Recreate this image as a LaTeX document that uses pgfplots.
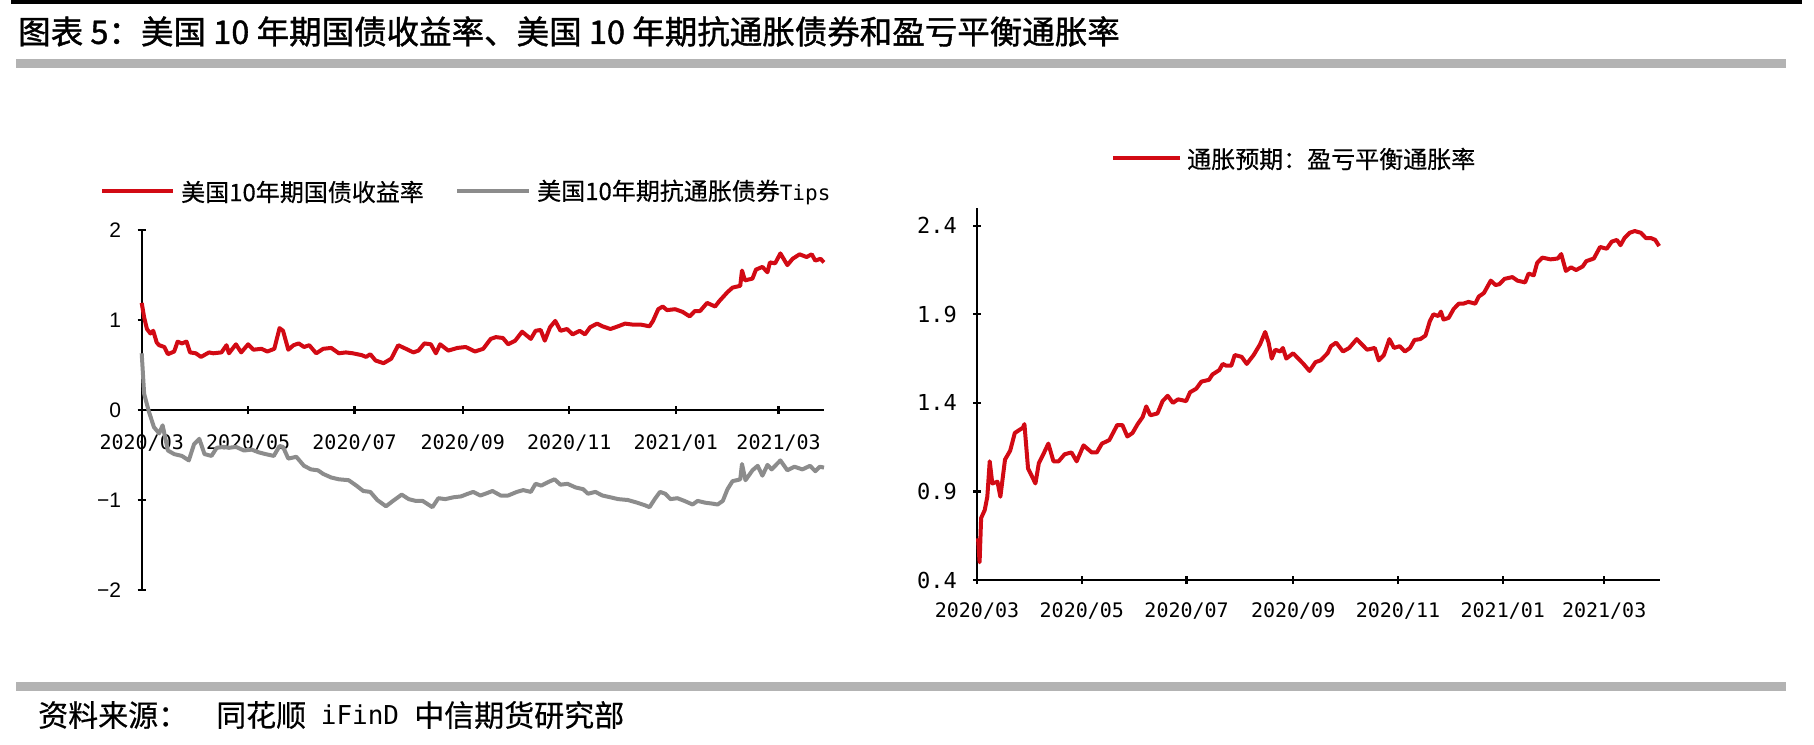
\documentclass[border=0pt]{standalone}
\usepackage{pgfplots}
\pgfplotsset{compat=1.18}
\usepackage{pgfplotstable}
\usepackage{fontspec}
\setmainfont{Noto Sans CJK SC}
\newfontfamily\hei[FakeBold=0.5]{Noto Sans CJK SC}
\newfontfamily\heib[FakeBold=1.2]{Noto Sans CJK SC}
\newfontfamily\arial{Liberation Sans}
\newfontfamily\mono{DejaVu Sans Mono}
\newcommand{\fs}[1]{\fontsize{#1}{#1}\selectfont}
\definecolor{cred}{RGB}{210,10,20}
\definecolor{cgrey}{RGB}{140,140,140}
\definecolor{cbar}{RGB}{179,179,179}

% day = days since 2020-03-01
\pgfplotstableread{
day val
0 1.19
1.4 1.03
3 0.90
5 0.85
6.6 0.88
8.6 0.75
10 0.72
13 0.70
15 0.62
18.6 0.65
20.6 0.76
23 0.74
25.7 0.76
27.7 0.64
31 0.63
34 0.59
38.6 0.64
41 0.63
45.7 0.64
48.6 0.72
50 0.63
54 0.73
57 0.64
61 0.73
64 0.67
68.6 0.68
72 0.65
76 0.68
79 0.91
81 0.88
84 0.67
87 0.72
90 0.74
93 0.70
96 0.72
100 0.63
104 0.68
108.6 0.69
113 0.63
117 0.64
121 0.63
126 0.61
128.6 0.59
131 0.62
134 0.55
138.6 0.52
143 0.57
147 0.72
151.4 0.68
155.7 0.64
158.6 0.66
162 0.74
165.7 0.73
168.6 0.63
171 0.73
175.7 0.66
181 0.69
185.7 0.70
191 0.65
195.7 0.68
200 0.79
203 0.81
207 0.80
210 0.73
214 0.77
218 0.87
223 0.79
225.7 0.88
228.6 0.89
231 0.77
234 0.92
237 0.99
240 0.88
243.7 0.90
247 0.84
251 0.88
254 0.84
257 0.92
261 0.96
264 0.93
268.6 0.90
273 0.93
277 0.96
281 0.95
285.7 0.95
291 0.93
293 0.99
296 1.12
298.6 1.15
301 1.11
305.7 1.12
310 1.09
314 1.04
317 1.10
320 1.10
324 1.19
328.6 1.15
331 1.21
335.7 1.31
338.6 1.36
343 1.38
344 1.55
345.7 1.44
350 1.46
352 1.56
355.7 1.59
358.6 1.53
360 1.64
363 1.63
366 1.74
370 1.61
373 1.68
377 1.73
381 1.70
384 1.73
386 1.66
389 1.68
391 1.64
}\nominal

\pgfplotstableread{
day val
0 0.63
1.4 0.18
4 -0.01
7 -0.19
10 -0.26
12 -0.17
15 -0.45
18.6 -0.49
23 -0.51
27 -0.56
30 -0.38
33 -0.32
36 -0.49
40 -0.51
43 -0.42
47 -0.41
50 -0.42
54 -0.41
58.6 -0.45
63 -0.44
67 -0.47
71 -0.49
75.7 -0.51
79 -0.40
81 -0.41
84 -0.54
88.6 -0.52
93 -0.62
97 -0.66
101 -0.67
104 -0.71
108.6 -0.75
113 -0.77
118.6 -0.78
123 -0.84
127 -0.90
131 -0.91
135 -1.00
140 -1.07
144 -1.01
149 -0.94
153 -0.99
157 -1.01
161 -1.01
166.6 -1.08
170 -0.98
174 -0.99
178.6 -0.97
183 -0.96
187 -0.93
190 -0.91
194 -0.95
197 -0.93
201 -0.90
205.7 -0.95
210 -0.95
215 -0.91
218.6 -0.89
223 -0.91
225.7 -0.82
229 -0.84
233 -0.80
236.6 -0.77
240 -0.83
244 -0.82
248.6 -0.86
253 -0.88
255.7 -0.93
260 -0.91
264 -0.95
268.6 -0.97
273 -0.99
278.6 -1.00
284 -1.03
288.6 -1.06
291 -1.08
294 -0.99
297 -0.91
300 -0.93
303 -0.99
307 -0.98
311 -1.01
315.7 -1.05
318.6 -1.01
323 -1.03
327 -1.04
330 -1.05
333 -1.01
335.7 -0.88
338.6 -0.79
341 -0.78
343 -0.77
344 -0.60
346 -0.78
350 -0.67
353 -0.62
355.7 -0.73
358.6 -0.61
361 -0.66
366 -0.56
370 -0.67
374 -0.63
378.6 -0.66
383 -0.62
386 -0.68
388.6 -0.63
391 -0.64
}\tips

\pgfplotstableread{
day val
0.6 0.635
1.5 0.50
2.4 0.75
4.5 0.795
6 0.87
7.4 1.07
8.9 0.945
11.9 0.955
13.6 0.87
16.3 1.08
19.3 1.13
22 1.23
26.7 1.26
27.6 1.28
29.7 1.03
34 0.945
36 1.06
38.6 1.11
41.5 1.17
44.5 1.07
47.5 1.07
51 1.11
55 1.12
58 1.07
62 1.16
66.8 1.12
69.7 1.12
72.7 1.17
77 1.19
81.6 1.275
84.6 1.275
87.5 1.21
90.5 1.23
93.5 1.28
96.4 1.32
98.5 1.38
100.9 1.33
105 1.34
108 1.41
111 1.44
114 1.40
117 1.42
121.7 1.41
124 1.46
127.6 1.48
130.6 1.52
135 1.53
137 1.56
141 1.585
143 1.62
145 1.61
148 1.61
150 1.67
154 1.66
157 1.62
161 1.67
164.7 1.73
167.7 1.80
169.7 1.74
171.5 1.65
173.6 1.70
176.6 1.69
178 1.71
180 1.65
184 1.68
187 1.65
190 1.62
193.5 1.58
197 1.63
200 1.64
204 1.68
206 1.72
209 1.74
213 1.69
216.6 1.71
221 1.76
224 1.73
227 1.70
231.5 1.71
233.8 1.64
236.8 1.67
240 1.76
242.7 1.71
246 1.72
249 1.69
252 1.71
254.6 1.755
258 1.76
261 1.78
263.5 1.86
265.6 1.90
268.5 1.89
270 1.915
271.5 1.87
274.5 1.88
277.4 1.93
280.4 1.96
283 1.96
286 1.97
290 1.96
292 2.00
295 2.02
299 2.09
301.8 2.065
304 2.07
307 2.10
311.6 2.11
314.5 2.09
319 2.08
321 2.13
324 2.12
326 2.19
329 2.22
333.8 2.21
338 2.215
340 2.24
342.7 2.145
345.7 2.165
348.7 2.15
352.5 2.17
354.6 2.20
359 2.215
362.6 2.28
366.5 2.27
369.4 2.31
372.4 2.32
374.5 2.29
376.8 2.33
379.8 2.36
382.8 2.37
386.4 2.36
389.3 2.33
392.3 2.33
394.7 2.32
397 2.285
}\breakeven

\pgfplotsset{
  cicc/.style={
    scale only axis,
    clip=false,
    tick style={black, line width=2.3pt},
    major tick length=8pt,
    tick align=inside,
    hide obscured x ticks=false,
    hide obscured y ticks=false,
    xtick={0,61,122,184,245,306,365},
    xticklabels={2020/03,2020/05,2020/07,2020/09,2020/11,2021/01,2021/03},
    xticklabel style={font=\mono\fs{20}, anchor=center},
  },
  noarrows/.style={
    axis line style={-, line width=2.3pt, black},
    x axis line style={-},
    y axis line style={-},
    every outer x axis line/.append style={-},
    every outer y axis line/.append style={-},
    every inner x axis line/.append style={-},
  },
}

\begin{document}
\begin{tikzpicture}[x=1pt,y=-1pt]
\path[use as bounding box] (0,0) rectangle (1814,744);

% header and footer bars
\fill[black] (11,0) rectangle (1802,4);
\fill[cbar] (16,59) rectangle (1786,68);
\fill[cbar] (16,682) rectangle (1786,691);

\node[anchor=west, inner sep=0pt, font=\heib\fs{32.5}] at (18,31.5)
  {图表 5：美国 10 年期国债收益率、美国 10 年期抗通胀债券和盈亏平衡通胀率};

\node[anchor=west, inner sep=0pt, font=\hei\fs{30}] at (38,715) {资料来源：};
\node[anchor=west, inner sep=0pt, font=\hei\fs{30}] at (216,715) {同花顺};
\node[anchor=center, inner sep=0pt, font=\mono\fs{26}] at (360,715) {iFinD};
\node[anchor=west, inner sep=0pt, font=\hei\fs{30}] at (414,715) {中信期货研究部};

% left legend
\draw[cred, line width=4pt] (102,191) -- (173,191);
\node[anchor=west, inner sep=0pt, font=\hei\fs{24}] at (181,192) {美国10年期国债收益率};
\draw[cgrey, line width=4pt] (457,191) -- (529,191);
\node[anchor=west, inner sep=0pt, font=\hei\fs{24}] at (537,192)
  {美国10年期抗通胀债券{\mono\fs{21}Tips}};

% right legend
\draw[cred, line width=4pt] (1113,158) -- (1180,158);
\node[anchor=west, inner sep=0pt, font=\hei\fs{24}] at (1187,159) {通胀预期：盈亏平衡通胀率};

% left chart
\begin{axis}[cicc,
  at={(141.7pt,-590pt)}, anchor=south west,
  width=682.3pt, height=360pt,
  xmin=0, xmax=391, ymin=-2, ymax=2,
  axis x line=middle, axis y line=left,
  noarrows,
  ytick={-2,-1,0,1,2},
  yticklabels={−2,−1,0,1,2},
  yticklabel style={font=\arial\fs{21}, anchor=east, xshift=-13pt},
  xticklabel style={yshift=-28.5pt},
]
\addplot[cgrey, line width=4pt, line join=round] table[x=day, y=val] {\tips};
\addplot[cred, line width=4pt, line join=round] table[x=day, y=val] {\nominal};
\end{axis}

% right chart
\begin{axis}[cicc,
  at={(977pt,-580pt)}, anchor=south west,
  width=683pt, height=372pt,
  xmin=0, xmax=397.5, ymin=0.4, ymax=2.5,
  axis x line=bottom, axis y line=left,
  noarrows,
  ytick={0.4,0.9,1.4,1.9,2.4},
  yticklabels={0.4,0.9,1.4,1.9,2.4},
  yticklabel style={font=\mono\fs{22}, anchor=east, xshift=-12.7pt},
  xticklabel style={yshift=-27pt},
]
\addplot[cred, line width=4pt, line join=round] table[x=day, y=val] {\breakeven};
\end{axis}
\end{tikzpicture}
\end{document}
